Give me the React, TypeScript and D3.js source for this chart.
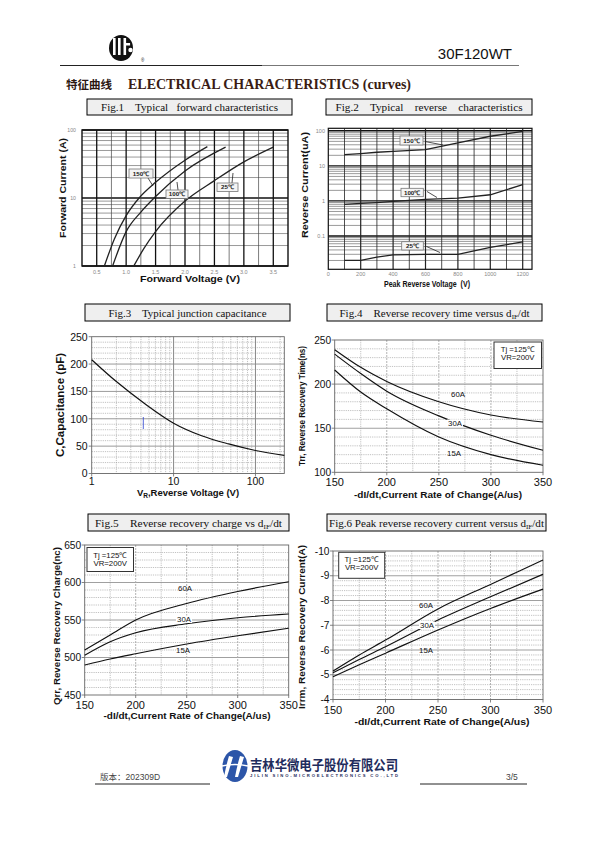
import React from "react";
import * as d3 from "d3";

// ---------- Fig.1 Typical forward characteristics ----------
const fwdV150 = [0.63, 0.8, 1.0, 1.22, 1.5, 2.0, 2.38];
const fwdI150 = [1, 2.5, 5.5, 10, 17, 36, 57];
const fwdV100 = [0.77, 1.0, 1.25, 1.5, 2.0, 2.69];
const fwdI100 = [1, 3.2, 6.2, 10.5, 25, 56];
const fwdV25 = [1.13, 1.3, 1.5, 2.0, 2.5, 3.0, 3.5];
const fwdI25 = [1, 1.8, 3.2, 9, 18, 34, 56];
const fwdXTicks = [0.5, 1.0, 1.5, 2.0, 2.5, 3.0, 3.5];
const fwdYTicks = [1, 10, 100];

// ---------- Fig.2 Typical reverse characteristics ----------
const revV = [100, 200, 300, 400, 600, 800, 1000, 1200];
const rev150 = [21, 22.5, 24.5, 26, 29, 45, 70, 96];
const rev100 = [0.8, 0.85, 0.9, 0.97, 1.1, 1.2, 1.5, 2.9];
const rev25 = [0.02, 0.02, 0.025, 0.029, 0.03, 0.03, 0.047, 0.068];
const revXTicks = [0, 200, 400, 600, 800, 1000, 1200];
const revYTicks = [0.1, 1, 10, 100];

// ---------- Fig.3 Typical junction capacitance ----------
const capV = [1, 2, 4.5, 10, 22, 47, 100, 225];
const capC = [208, 168, 127, 92, 69, 54, 42, 33];
const capXTicks = [1, 10, 100];
const capYTicks = [0, 50, 100, 150, 200, 250];

// ---------- Fig.4 / 5 / 6 versus dIF/dt ----------
const didt = [150, 175, 200, 250, 300, 350];
const didtTicks = [150, 200, 250, 300, 350];
const trr60 = [239, 219, 203, 180, 165, 157];
const trr30 = [234, 212, 192, 164, 142, 125];
const trr15 = [216, 191, 172, 140, 120, 108];
const trrYTicks = [100, 150, 200, 250];
const qrr60 = [510, 530, 550, 572, 588, 601];
const qrr30 = [503, 521, 533, 545, 553, 558];
const qrr15 = [490, 498, 505, 518, 529, 539];
const qrrYTicks = [450, 500, 550, 600, 650];
const irr60 = [-5.15, -5.8, -6.4, -7.66, -8.65, -9.64];
const irr30 = [-5.08, -5.62, -6.13, -7.21, -8.15, -9.06];
const irr15 = [-4.92, -5.4, -5.87, -6.81, -7.68, -8.46];
const irrYTicks = [-4, -5, -6, -7, -8, -9, -10];
const seriesNames = ["60A", "30A", "15A"];
const tempNames = ["150\u2103", "100\u2103", "25\u2103"];

const SANS = "'Liberation Sans', Arial, sans-serif";
const SERIF = "'Liberation Serif', 'Times New Roman', serif";
const CJK = "'Noto Sans CJK SC', sans-serif";

function zip(xs: number[], ys: number[]): [number, number][] {
  return xs.map((v, i) => [v, ys[i]]);
}

function FigTitle({ x0, x1, y0, y1, len, children }: any) {
  return (
    <g>
      <rect x={x0} y={y0} width={x1 - x0} height={y1 - y0} fill="#efefef" stroke="#000" strokeWidth={1} />
      <text
        x={(x0 + x1) / 2}
        y={y1 - 4.5}
        textAnchor="middle"
        fontFamily={SERIF}
        fontSize={11}
        textLength={len}
        lengthAdjust="spacingAndGlyphs"
        style={{ whiteSpace: "pre" }}
        fill="#111"
      >
        {children}
      </text>
    </g>
  );
}

function YTitle({ x, y, len, size = 9.5, children }: any) {
  return (
    <text
      transform={`translate(${x},${y}) rotate(-90)`}
      textAnchor="middle"
      fontFamily={SANS}
      fontWeight="bold"
      fontSize={size}
      textLength={len}
      lengthAdjust="spacingAndGlyphs"
      fill="#111"
    >
      {children}
    </text>
  );
}

function XTitle({ x, y, len, size = 9.5, children }: any) {
  return (
    <text
      x={x}
      y={y}
      textAnchor="middle"
      fontFamily={SANS}
      fontWeight="bold"
      fontSize={size}
      textLength={len}
      lengthAdjust="spacingAndGlyphs"
      fill="#111"
      style={{ whiteSpace: "pre" }}
    >
      {children}
    </text>
  );
}

function TagBox({ x, y, w, h, label, ax1, ay1, ax2, ay2 }: any) {
  return (
    <g>
      <line x1={ax1} y1={ay1} x2={ax2} y2={ay2} stroke="#222" strokeWidth={0.8} />
      <rect x={x} y={y} width={w} height={h} fill="#f4f4f4" stroke="#777" strokeWidth={0.8} />
      <text x={x + w / 2} y={y + h - 2.2} textAnchor="middle" fontFamily={SANS} fontWeight="bold" fontSize={6.2} fill="#222">
        {label}
      </text>
    </g>
  );
}

// ---------------- Fig.1 ----------------
function Fig1() {
  const L = 82, R = 288, T = 130, B = 266;
  const x = d3.scaleLinear().domain([0.25, 3.75]).range([L, R]);
  const y = d3.scaleLog().domain([1, 100]).range([B, T]);
  const minor: number[] = [];
  [1, 10].forEach((d) => { for (let m = 2; m <= 9; m++) minor.push(d * m); });
  const vl = d3.range(0.5, 3.74, 0.25);
  const line = d3.line<[number, number]>().x((d) => x(d[0])).y((d) => y(d[1])).curve(d3.curveMonotoneX);
  const curves = [zip(fwdV150, fwdI150), zip(fwdV100, fwdI100), zip(fwdV25, fwdI25)];
  return (
    <g>
      <FigTitle x0={87} x1={292} y0={99} y1={115} len={177}>{"Fig.1    Typical   forward characteristics"}</FigTitle>
      <rect x={L} y={T} width={R - L} height={B - T} fill="#fff" />
      {minor.map((v, i) => (
        <line key={"m" + i} x1={L} x2={R} y1={y(v)} y2={y(v)} stroke="#555" strokeWidth={0.6} />
      ))}
      {fwdYTicks.map((v, i) => (
        <line key={"d" + i} x1={L} x2={R} y1={y(v)} y2={y(v)} stroke="#111" strokeWidth={1.4} />
      ))}
      {vl.map((v, i) => {
        const major = Math.abs(v * 2 - Math.round(v * 2)) < 1e-6;
        return <line key={"v" + i} x1={x(v)} x2={x(v)} y1={T} y2={B} stroke={major ? "#111" : "#444"} strokeWidth={major ? 1.3 : 0.7} />;
      })}
      <rect x={L} y={T} width={R - L} height={B - T} fill="none" stroke="#111" strokeWidth={1.4} />
      {curves.map((c, i) => (
        <path key={i} d={line(c) || ""} fill="none" stroke="#222" strokeWidth={1.3} />
      ))}
      {fwdXTicks.map((v, i) => (
        <text key={i} x={x(v)} y={274} textAnchor="middle" fontFamily={SANS} fontSize={5.5} fill="#888">{v.toFixed(1)}</text>
      ))}
      {fwdYTicks.map((v, i) => (
        <text key={i} x={76} y={y(v) + 2} textAnchor="end" fontFamily={SANS} fontSize={5.2} fill="#888">{v}</text>
      ))}
      <TagBox x={129} y={169} w={24} h={9} label={tempNames[0]} ax1={148} ay1={178} ax2={153} ay2={186} />
      <TagBox x={166} y={190} w={22} h={8.5} label={tempNames[1]} ax1={178} ay1={190} ax2={177} ay2={182} />
      <TagBox x={217} y={183} w={21} h={8.5} label={tempNames[2]} ax1={232} ay1={183} ax2={233} ay2={173} />
      <XTitle x={190} y={282} len={100} size={9}>Forward Voltage (V)</XTitle>
      <YTitle x={66} y={188} len={100} size={9}>Forward Current (A)</YTitle>
    </g>
  );
}

// ---------------- Fig.2 ----------------
function Fig2() {
  const L = 328.3, R = 532, T = 128.3, B = 269.3;
  const x = d3.scaleLinear().domain([0, 1200]).range([L, 522.7]);
  const y = d3.scaleLog().domain([0.0112, 118]).range([B, T]);
  const minor: number[] = [];
  [0.01, 0.1, 1, 10].forEach((d) => { for (let m = 2; m <= 9; m++) minor.push(d * m); });
  const decades = [0.1, 1, 10, 100];
  const vl = d3.range(100, 1201, 100);
  const line = d3.line<[number, number]>().x((d) => x(d[0])).y((d) => y(d[1]));
  const curves = [zip(revV, rev150), zip(revV, rev100), zip(revV, rev25)];
  return (
    <g>
      <FigTitle x0={326} x1={532} y0={99} y1={115} len={187}>{"Fig.2    Typical    reverse    characteristics"}</FigTitle>
      <rect x={L} y={T} width={R - L} height={B - T} fill="#fff" />
      {minor.map((v, i) => (
        <line key={"m" + i} x1={L} x2={R} y1={y(v)} y2={y(v)} stroke="#555" strokeWidth={0.6} />
      ))}
      {decades.map((v, i) => (
        <line key={"d" + i} x1={L} x2={R} y1={y(v)} y2={y(v)} stroke="#111" strokeWidth={1.4} />
      ))}
      {vl.map((v, i) => (
        <line key={"v" + i} x1={x(v)} x2={x(v)} y1={T} y2={B} stroke="#222" strokeWidth={v % 200 === 0 ? 1.2 : 0.8} />
      ))}
      <rect x={L} y={T} width={R - L} height={B - T} fill="none" stroke="#111" strokeWidth={1.2} />
      {curves.map((c, i) => (
        <path key={i} d={line(c) || ""} fill="none" stroke="#222" strokeWidth={1.3} />
      ))}
      {revXTicks.map((v, i) => (
        <text key={i} x={x(v)} y={275.5} textAnchor="middle" fontFamily={SANS} fontSize={5.5} fill="#888">{v}</text>
      ))}
      {revYTicks.map((v, i) => (
        <text key={i} x={325} y={y(v) + 2} textAnchor="end" fontFamily={SANS} fontSize={5.5} fill="#888">{v}</text>
      ))}
      <TagBox x={400} y={136} w={23} h={9} label={tempNames[0]} ax1={425} ay1={141.5} ax2={443} ay2={145} />
      <TagBox x={401} y={188.3} w={22.3} h={8.4} label={tempNames[1]} ax1={427} ay1={191.5} ax2={437} ay2={197.5} />
      <TagBox x={401.7} y={241.7} w={21.6} h={8.3} label={tempNames[2]} ax1={426.5} ay1={246.5} ax2={440} ay2={252.5} />
      <XTitle x={427} y={287} len={86} size={8.5}>{"Peak Reverse Voltage  (V)"}</XTitle>
      <YTitle x={308} y={185} len={106} size={9}>Reverse Current(uA)</YTitle>
    </g>
  );
}

// ---------------- Fig.3 ----------------
function Fig3() {
  const L = 91.7, R = 284.3, T = 336.7, B = 473.5;
  const x = d3.scaleLog().domain([1, 225]).range([L, R]);
  const y = d3.scaleLinear().domain([0, 250]).range([B, T]);
  const minorX: number[] = [];
  [1, 10, 100].forEach((d) => { for (let m = 2; m <= 9; m++) if (d * m < 225) minorX.push(d * m); });
  const hs = d3.range(10, 250, 10);
  const line = d3.line<[number, number]>().x((d) => x(d[0])).y((d) => y(d[1])).curve(d3.curveMonotoneX);
  return (
    <g>
      <FigTitle x0={85} x1={290} y0={304} y1={321} len={158}>{"Fig.3    Typical junction capacitance"}</FigTitle>
      {hs.map((v, i) => (
        v % 50 === 0
          ? <line key={i} x1={L} x2={R} y1={y(v)} y2={y(v)} stroke="#9a9a9a" strokeWidth={1} />
          : <line key={i} x1={L} x2={R} y1={y(v)} y2={y(v)} stroke="#999" strokeWidth={0.6} strokeDasharray="1.2 1" />
      ))}
      {minorX.map((v, i) => (
        <line key={"mx" + i} x1={x(v)} x2={x(v)} y1={T} y2={B} stroke="#999" strokeWidth={0.6} strokeDasharray="1.2 1" />
      ))}
      {[10, 100].map((v, i) => (
        <line key={"dx" + i} x1={x(v)} x2={x(v)} y1={T} y2={B} stroke="#888" strokeWidth={1} />
      ))}
      <rect x={L} y={T} width={R - L} height={B - T} fill="none" stroke="#666" strokeWidth={0.9} />
      {capYTicks.map((v, i) => (
        <g key={i}>
          <line x1={L - 3} x2={L} y1={y(v)} y2={y(v)} stroke="#666" strokeWidth={0.8} />
          <text x={L - 4} y={y(v) + 3.8} textAnchor="end" fontFamily={SANS} fontSize={10.5} fill="#111">{v}</text>
        </g>
      ))}
      {capXTicks.map((v, i) => (
        <g key={i}>
          <line x1={x(v)} x2={x(v)} y1={B} y2={B + 3} stroke="#666" strokeWidth={0.8} />
          <text x={x(v)} y={485} textAnchor="middle" fontFamily={SANS} fontSize={10.5} fill="#111">{v}</text>
        </g>
      ))}
      <line x1={143.3} x2={143.3} y1={417} y2={429} stroke="#2a3fd0" strokeWidth={0.8} />
      <path d={line(zip(capV, capC)) || ""} fill="none" stroke="#111" strokeWidth={1.2} />
      <text x={188} y={496} textAnchor="middle" fontFamily={SANS} fontWeight="bold" fontSize={9.5} fill="#111">
        V<tspan fontSize={6.5} dy={1.5}>R</tspan><tspan dy={-1.5}>,Reverse Voltage (V)</tspan>
      </text>
      <YTitle x={64} y={405} len={104} size={10}>C,Capacitance  (pF)</YTitle>
    </g>
  );
}

// ---------------- Fig.4/5/6 generic ----------------
function DidtChart({ L, R, T, B, yDomain, yTicks, yMinor, ys, labels, legend, title, titleBox, titleLen, xTitle, yTitle, xTickY, xTitleY, xTitleX, xTitleLen, yTitleX, yTitleY, yTitleLen, yTitleSize = 9.5 }: any) {
  const x = d3.scaleLinear().domain([150, 350]).range([L, R]);
  const y = d3.scaleLinear().domain(yDomain).range([B, T]);
  const lo = Math.min(yDomain[0], yDomain[1]);
  const hi = Math.max(yDomain[0], yDomain[1]);
  const step = Math.abs(yMinor);
  const major = Math.abs(yTicks[1] - yTicks[0]);
  const n = Math.round((hi - lo) / step);
  const hs: number[] = [];
  for (let k = 1; k < n; k++) hs.push(+(lo + k * step).toFixed(4));
  const vs = d3.range(175, 350, 25);
  const line = d3.line<[number, number]>().x((d) => x(d[0])).y((d) => y(d[1])).curve(d3.curveMonotoneX);
  const isMajor = (v: number) => Math.abs((v - lo) / major - Math.round((v - lo) / major)) < 1e-6;
  return (
    <g>
      <FigTitle x0={titleBox[0]} x1={titleBox[1]} y0={titleBox[2]} y1={titleBox[3]} len={titleLen}>{title}</FigTitle>
      {hs.map((v, i) => (
        isMajor(v)
          ? <line key={"h" + i} x1={L} x2={R} y1={y(v)} y2={y(v)} stroke="#a0a0a0" strokeWidth={1.1} />
          : <line key={"h" + i} x1={L} x2={R} y1={y(v)} y2={y(v)} stroke="#999" strokeWidth={0.6} strokeDasharray="1.2 1" />
      ))}
      {vs.map((v, i) => (
        v % 50 === 0
          ? <line key={"v" + i} x1={x(v)} x2={x(v)} y1={T} y2={B} stroke="#aaa" strokeWidth={0.9} strokeDasharray="2 1" />
          : <line key={"v" + i} x1={x(v)} x2={x(v)} y1={T} y2={B} stroke="#999" strokeWidth={0.6} strokeDasharray="1.2 1" />
      ))}
      <rect x={L} y={T} width={R - L} height={B - T} fill="none" stroke="#666" strokeWidth={0.9} />
      {yTicks.map((v: number, i: number) => (
        <g key={"yt" + i}>
          <line x1={L - 3} x2={L} y1={y(v)} y2={y(v)} stroke="#666" strokeWidth={0.8} />
          <text x={L - 3.5} y={y(v) + 3.6} textAnchor="end" fontFamily={SANS} fontSize={10.2} fill="#111">{v}</text>
        </g>
      ))}
      {didtTicks.map((v, i) => (
        <g key={"xt" + i}>
          <line x1={x(v)} x2={x(v)} y1={B} y2={B + 3} stroke="#666" strokeWidth={0.8} />
          <text x={x(v)} y={xTickY} textAnchor="middle" fontFamily={SANS} fontSize={11} fill="#111">{v}</text>
        </g>
      ))}
      {ys.map((s: number[], i: number) => (
        <path key={"c" + i} d={line(zip(didt, s)) || ""} fill="none" stroke="#111" strokeWidth={1.15} />
      ))}
      {labels.map((lb: any, i: number) => (
        <g key={"lb" + i}>
          {i === 1 && <rect x={lb[0] - 8} y={lb[1] - 5.5} width={16} height={7.5} fill="#fff" />}
          <text x={lb[0]} y={lb[1] + 1} textAnchor="middle" fontFamily={SANS} fontSize={7.8} fill="#111">{seriesNames[i]}</text>
        </g>
      ))}
      <rect x={legend[0]} y={legend[1]} width={legend[2]} height={legend[3]} fill="#fff" stroke="#333" strokeWidth={1} />
      <text x={legend[0] + legend[2] / 2} y={legend[1] + 10} textAnchor="middle" fontFamily={SANS} fontSize={7.8} fill="#111">Tj =125{"\u2103"}</text>
      <text x={legend[0] + legend[2] / 2} y={legend[1] + 18} textAnchor="middle" fontFamily={SANS} fontSize={7.8} fill="#111">VR=200V</text>
      <XTitle x={xTitleX} y={xTitleY} len={xTitleLen} size={9.5}>{xTitle}</XTitle>
      <YTitle x={yTitleX} y={yTitleY} len={yTitleLen} size={yTitleSize}>{yTitle}</YTitle>
    </g>
  );
}

function SubTitle({ prefix }: { prefix: string }) {
  return (
    <>
      {prefix}d<tspan fontSize={7} dy={2}>IF</tspan><tspan dy={-2}>/dt</tspan>
    </>
  );
}

function Header() {
  return (
    <g>
      <ellipse cx={121} cy={48} rx={12} ry={13} fill="#111" />
      <rect x={113} y={38} width={2.6} height={17} fill="#fff" />
      <rect x={118} y={38} width={2.6} height={17} fill="#fff" />
      <path d="M123.5 38 h2.6 v5 h4 v2.6 h-4 v9.4 h-2.6 z" fill="#fff" />
      <circle cx={130.5} cy={50} r={2.2} fill="#fff" />
      <text x={141} y={62} fontFamily={SANS} fontSize={4.5} fill="#111">®</text>
      <text x={512} y={59} textAnchor="end" fontFamily={SANS} fontSize={15} fill="#111">30F120WT</text>
      <line x1={60} x2={262} y1={65.5} y2={65.5} stroke="#222" strokeWidth={1} />
      <line x1={262} x2={519} y1={65.5} y2={65.5} stroke="#777" strokeWidth={1} />
      <text x={66} y={89} fontFamily={CJK} fontWeight="bold" fontSize={11.5} fill="#2a1610" textLength={46} lengthAdjust="spacingAndGlyphs">特征曲线</text>
      <text x={128} y={89} fontFamily={SERIF} fontWeight="bold" fontSize={14} fill="#3a1c14" textLength={283} lengthAdjust="spacingAndGlyphs">ELECTRICAL CHARACTERISTICS (curves)</text>
    </g>
  );
}

function Footer() {
  return (
    <g>
      <text x={100} y={780} fontFamily={CJK} fontSize={8.5} fill="#444">版本：<tspan fontFamily={SANS}>202309D</tspan></text>
      <line x1={95} x2={210} y1={784} y2={784} stroke="#222" strokeWidth={1} />
      <ellipse cx={235} cy={766} rx={12.5} ry={16} fill="#2c55a8" />
      <path d="M229 756 Q 226 766 224 777 L 227 777 Q 230 767 233 757 Z" fill="#fff" />
      <path d="M240 756 Q 237 766 235 777 L 238 777 Q 241 767 244 757 Z" fill="#fff" />
      <path d="M222 766 Q 235 763 248 766" stroke="#fff" strokeWidth={1.4} fill="none" />
      <text x={250} y={770} fontFamily={CJK} fontWeight="bold" fontSize={13.5} fill="#1f2c5c" textLength={148} lengthAdjust="spacingAndGlyphs">吉林华微电子股份有限公司</text>
      <text x={250} y={776.5} fontFamily={SANS} fontWeight="bold" fontSize={4.2} fill="#1f2c5c" textLength={148} lengthAdjust="spacing">JILIN SINO-MICROELECTRONICS CO.,LTD</text>
      <text x={506} y={780} fontFamily={SANS} fontSize={8.5} fill="#444">3/5</text>
      <line x1={420} x2={527} y1={784} y2={784} stroke="#222" strokeWidth={1} />
    </g>
  );
}

export default function App() {
  const dtitle = "-dI/dt,Current Rate of Change(A/us)";
  return (
    <svg width={595} height={842} viewBox="0 0 595 842" style={{ position: "absolute", left: 0, top: 0, background: "#fff" }}>
      <rect width={595} height={842} fill="#fff" />
      <Header />
      <Fig1 />
      <Fig2 />
      <Fig3 />
      <DidtChart
        L={334.7} R={543} T={340} B={472.3}
        yDomain={[100, 250]} yTicks={trrYTicks} yMinor={10}
        ys={[trr60, trr30, trr15]}
        labels={[[458, 396], [455, 425], [454, 455]]}
        legend={[494, 342, 47.5, 26.5]}
        title={<SubTitle prefix={"Fig.4    Reverse recovery time versus "} />}
        titleBox={[327, 542, 304, 321]} titleLen={190}
        xTitle={dtitle} yTitle="Trr, Reverse Recovery Time(ns)"
        xTickY={486} xTitleY={497.5} xTitleX={438} xTitleLen={168}
        yTitleX={305} yTitleY={406} yTitleLen={120}
      />
      <DidtChart
        L={84.7} R={288.7} T={545} B={695}
        yDomain={[450, 650]} yTicks={qrrYTicks} yMinor={10}
        ys={[qrr60, qrr30, qrr15]}
        labels={[[185, 590], [184, 621], [183, 652]]}
        legend={[87, 547.5, 46.5, 24]}
        title={<SubTitle prefix={"Fig.5    Reverse recovery charge vs "} />}
        titleBox={[88, 289, 514, 531]} titleLen={187}
        xTitle={dtitle} yTitle="Qrr, Reverse Recovery Charge(nc)"
        xTickY={708.5} xTitleY={719} xTitleX={187} xTitleLen={167}
        yTitleX={60} yTitleY={626} yTitleLen={158} yTitleSize={9}
      />
      <DidtChart
        L={333} R={543} T={551} B={699.5}
        yDomain={[-4, -10]} yTicks={irrYTicks} yMinor={0.2}
        ys={[irr60, irr30, irr15]}
        labels={[[426, 607], [427, 627], [426, 652]]}
        legend={[338.7, 552.3, 46, 26]}
        title={<SubTitle prefix={"Fig.6 Peak reverse recovery current versus "} />}
        titleBox={[327, 546, 514, 531]} titleLen={215}
        xTitle={dtitle} yTitle="Irrm, Reverse Recovery Current(A)"
        xTickY={714} xTitleY={725} xTitleX={442} xTitleLen={175}
        yTitleX={305} yTitleY={627} yTitleLen={164}
      />
      <Footer />
    </svg>
  );
}
